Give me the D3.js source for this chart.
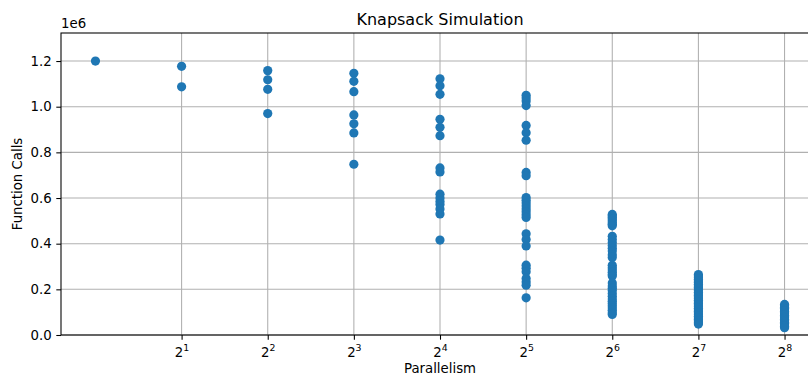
<!DOCTYPE html>
<html>
<head>
<meta charset="utf-8">
<script src="https://cdn.jsdelivr.net/npm/d3@7"></script>
<style>
  body { margin: 0; background: #fff; }
  text { font-family: "DejaVu Sans", sans-serif; fill: #000; }
</style>
</head>
<body>
<div id="chart"></div>
<script>
// function calls (in millions) observed at each parallelism level
var parallelism = [1, 2, 4, 8, 16, 32, 64, 128, 256];
var calls1 = [1.200];
var calls2 = [1.177, 1.087];
var calls4 = [1.158, 1.118, 1.076, 0.970];
var calls8 = [1.146, 1.111, 1.066, 0.964, 0.925, 0.885, 0.748];
var calls16 = [1.122, 1.092, 1.054, 0.945, 0.910, 0.873, 0.732, 0.714, 0.617, 0.600,
  0.585, 0.572, 0.552, 0.530, 0.416];
var calls32 = [1.050, 1.038, 1.025, 1.005, 0.918, 0.886, 0.853, 0.712, 0.698, 0.602,
  0.590, 0.578, 0.565, 0.552, 0.540, 0.527, 0.515, 0.443, 0.418, 0.390, 0.306, 0.292,
  0.277, 0.248, 0.232, 0.218, 0.163];
var calls64 = [0.528, 0.522, 0.515, 0.508, 0.500, 0.492, 0.485, 0.478, 0.432, 0.418,
  0.405, 0.392, 0.380, 0.368, 0.352, 0.340, 0.305, 0.295, 0.285, 0.275, 0.265, 0.258,
  0.228, 0.215, 0.205, 0.195, 0.182, 0.170, 0.158, 0.148, 0.138, 0.128, 0.118, 0.108,
  0.098, 0.090];
var calls128 = [0.265, 0.258, 0.251, 0.244, 0.237, 0.230, 0.222, 0.215, 0.208, 0.201,
  0.194, 0.187, 0.180, 0.173, 0.166, 0.159, 0.152, 0.145, 0.138, 0.131, 0.124, 0.117,
  0.110, 0.103, 0.096, 0.089, 0.082, 0.075, 0.068, 0.061, 0.054, 0.048];
var calls256 = [0.134, 0.128, 0.122, 0.116, 0.110, 0.104, 0.098, 0.092, 0.086, 0.080,
  0.074, 0.068, 0.062, 0.056, 0.050, 0.044, 0.038, 0.032];

var xTickExps = [1, 2, 3, 4, 5, 6, 7, 8];
var yTicks = [0, 0.2e6, 0.4e6, 0.6e6, 0.8e6, 1.0e6, 1.2e6];

var svgWidth = 808;
var svgHeight = 376;
var margin = { top: 33, right: -11, bottom: 41, left: 61 };
var width = svgWidth - margin.left - margin.right;
var height = svgHeight - margin.top - margin.bottom;

var allCalls = [calls1, calls2, calls4, calls8, calls16, calls32, calls64, calls128, calls256];
var points = [];
allCalls.forEach(function (list, i) {
  list.forEach(function (v) {
    points.push({ p: parallelism[i], calls: v * 1e6 });
  });
});

var svg = d3.select("#chart")
  .append("svg")
  .attr("width", svgWidth)
  .attr("height", svgHeight);

var chart = svg.append("g")
  .attr("transform", `translate(${margin.left}, ${margin.top})`);

var xScale = d3.scaleLog()
  .base(2)
  .domain([Math.pow(2, -0.4), Math.pow(2, 8.4)])
  .range([0, width]);

var yScale = d3.scaleLinear()
  .domain([0, 1.3228e6])
  .range([height, 0]);

var xTicks = xTickExps.map(e => Math.pow(2, e));

// grid
chart.append("g")
  .selectAll("line")
  .data(xTicks)
  .enter()
  .append("line")
  .attr("x1", d => xScale(d))
  .attr("x2", d => xScale(d))
  .attr("y1", 0)
  .attr("y2", height)
  .attr("stroke", "#b0b0b0")
  .attr("stroke-width", 1.07);

chart.append("g")
  .selectAll("line")
  .data(yTicks)
  .enter()
  .append("line")
  .attr("x1", 0)
  .attr("x2", width)
  .attr("y1", d => yScale(d))
  .attr("y2", d => yScale(d))
  .attr("stroke", "#b0b0b0")
  .attr("stroke-width", 1.07);

// points
chart.append("g")
  .selectAll("circle")
  .data(points)
  .enter()
  .append("circle")
  .attr("cx", d => xScale(d.p))
  .attr("cy", d => yScale(d.calls))
  .attr("r", 4.6)
  .attr("fill", "#1f77b4");

// axes
var bottomAxis = d3.axisBottom(xScale)
  .tickValues(xTicks)
  .tickSize(4.7)
  .tickFormat(() => "");

var leftAxis = d3.axisLeft(yScale)
  .tickValues(yTicks)
  .tickSize(4.7)
  .tickPadding(4.7)
  .tickFormat(d => d3.format(".1f")(d / 1e6));

var xAxisG = chart.append("g")
  .attr("transform", `translate(0, ${height})`)
  .call(bottomAxis);

var yAxisG = chart.append("g")
  .call(leftAxis);

[xAxisG, yAxisG].forEach(function (g) {
  g.select(".domain").remove();
  g.selectAll(".tick line").attr("stroke", "#000").attr("stroke-width", 1.07);
  g.selectAll("text").style("font-size", "13.3px").style("font-family", "DejaVu Sans");
});

// 2^n labels
xAxisG.selectAll(".tick")
  .each(function (d) {
    var t = d3.select(this).select("text")
      .attr("y", 22)
      .attr("dy", null)
      .style("font-size", "13.3px")
      .attr("text-anchor", "middle");
    t.append("tspan").text("2");
    t.append("tspan")
      .attr("dy", -6)
      .style("font-size", "9.4px")
      .text(Math.round(Math.log2(d)));
  });

// spines
chart.append("rect")
  .attr("x", 0)
  .attr("y", 0)
  .attr("width", width)
  .attr("height", height)
  .attr("fill", "none")
  .attr("stroke", "#000")
  .attr("stroke-width", 1.07);

// title and labels
svg.append("text")
  .attr("x", margin.left + width / 2)
  .attr("y", 25)
  .attr("text-anchor", "middle")
  .style("font-size", "16px")
  .text("Knapsack Simulation");

svg.append("text")
  .attr("x", margin.left)
  .attr("y", 28)
  .style("font-size", "13.3px")
  .text("1e6");

svg.append("text")
  .attr("x", margin.left + width / 2)
  .attr("y", 373)
  .attr("text-anchor", "middle")
  .style("font-size", "13.3px")
  .text("Parallelism");

svg.append("text")
  .attr("transform", `translate(22, ${margin.top + height / 2}) rotate(-90)`)
  .attr("text-anchor", "middle")
  .style("font-size", "13.3px")
  .text("Function Calls");
</script>
</body>
</html>
